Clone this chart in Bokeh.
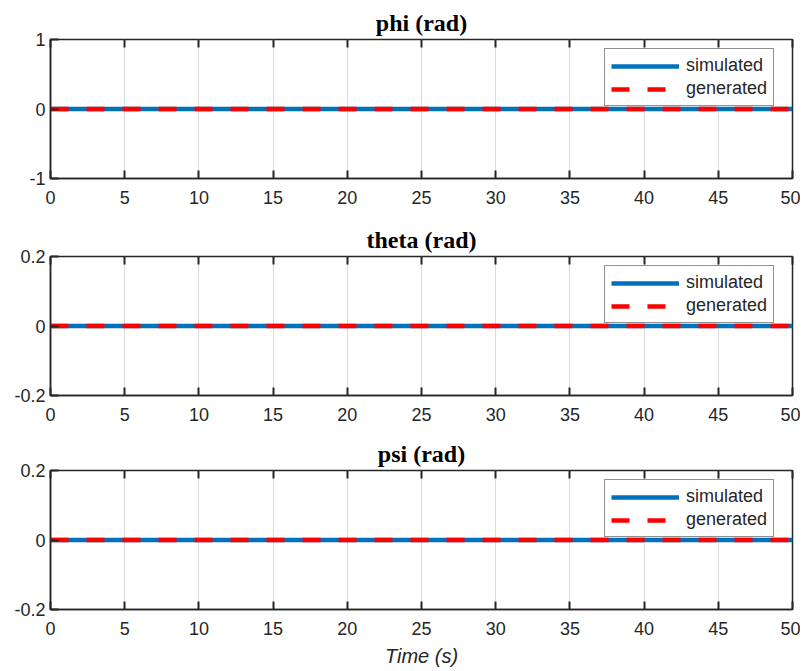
from bokeh.plotting import figure
from bokeh.layouts import column
from bokeh.models import LinearAxis, FixedTicker, Range1d, Legend, LegendItem
from bokeh.embed import file_html
from bokeh.resources import INLINE

# ---- data ----
time_s = [0, 10, 20, 30, 40, 50]
phi_sim = [0, 0, 0, 0, 0, 0]
phi_gen = [0, 0, 0, 0, 0, 0]
theta_sim = [0, 0, 0, 0, 0, 0]
theta_gen = [0, 0, 0, 0, 0, 0]
psi_sim = [0, 0, 0, 0, 0, 0]
psi_gen = [0, 0, 0, 0, 0, 0]

titles = ["phi (rad)", "theta (rad)", "psi (rad)"]
x_ticks = [0, 5, 10, 15, 20, 25, 30, 35, 40, 45, 50]
y_ticks_list = [[-1, 0, 1], [-0.2, 0, 0.2], [-0.2, 0, 0.2]]
y_labels_list = [["-1", "0", "1"], ["-0.2", "0", "0.2"], ["-0.2", "0", "0.2"]]
sim_series = [phi_sim, theta_sim, psi_sim]
gen_series = [phi_gen, theta_gen, psi_gen]

DARK = "#262626"
BLUE = "#0072BD"
RED = "#FF0000"
TICK_FONT = "Liberation Sans"

FW, FH = 742, 139
borders_top = [39, 40, 40]
borders_bottom = [38, 35, 60]

figs = []
for i in range(3):
    yt = y_ticks_list[i]
    p = figure(frame_width=FW, frame_height=FH, output_backend="svg",
               toolbar_location=None, x_range=Range1d(0, 50),
               y_range=Range1d(yt[0], yt[-1]),
               min_border_left=50, min_border_right=8,
               min_border_top=borders_top[i], min_border_bottom=borders_bottom[i])
    p.background_fill_color = "white"
    p.border_fill_color = "white"
    p.outline_line_color = DARK
    p.outline_line_width = 1.5
    p.outline_line_alpha = 1.0

    # title
    p.title.text = titles[i]
    p.title.text_font = "Liberation Serif"
    p.title.text_font_style = "bold"
    p.title.text_font_size = "24px"
    p.title.align = "center"
    p.title.text_color = "black"
    p.title.standoff = 7

    # x axis
    xa = p.xaxis[0]
    xa.ticker = FixedTicker(ticks=x_ticks)
    # y axis
    ya = p.yaxis[0]
    ya.ticker = FixedTicker(ticks=yt)
    ya.major_label_overrides = {v: s for v, s in zip(yt, y_labels_list[i])}
    for ax in (xa, ya):
        ax.axis_line_color = DARK
        ax.axis_line_width = 1.5
        ax.major_tick_in = 8
        ax.major_tick_out = 0
        ax.major_tick_line_color = DARK
        ax.major_tick_line_width = 2
        ax.minor_tick_line_color = None
        ax.major_label_text_font = TICK_FONT
        ax.major_label_text_font_size = "18px"
        ax.major_label_text_color = DARK
    xa.major_label_standoff = 12
    ya.major_label_standoff = 5

    # top mirrored ticks (labels not drawn)
    top = LinearAxis(ticker=FixedTicker(ticks=x_ticks), major_tick_in=8,
                     major_tick_out=0, major_tick_line_color=DARK,
                     major_tick_line_width=2, minor_tick_line_color=None,
                     axis_line_color=None, major_label_text_color=None,
                     major_label_text_font_size="1px",
                     major_label_standoff=0)
    p.add_layout(top, "above")

    # grid
    p.xgrid.grid_line_color = "#dcdcdc"
    p.xgrid.grid_line_width = 1
    p.xgrid.ticker = FixedTicker(ticks=x_ticks)
    p.ygrid.grid_line_color = None

    r_sim = p.line(time_s, sim_series[i], line_color=BLUE, line_width=4.5)
    r_gen = p.line(time_s, gen_series[i], line_color=RED, line_width=4.5,
                   line_dash="18 18")

    legend = Legend(items=[LegendItem(label="simulated", renderers=[r_sim]),
                           LegendItem(label="generated", renderers=[r_gen])],
                    location=(554, FH - 12 - 55))
    legend.margin = 0
    legend.padding = 6
    legend.spacing = 2
    legend.glyph_width = 68
    legend.glyph_height = 20
    legend.label_height = 20
    legend.label_standoff = 7
    legend.label_text_font = TICK_FONT
    legend.label_text_font_size = "18px"
    legend.label_text_color = DARK
    legend.border_line_color = DARK
    legend.border_line_width = 1.5
    legend.background_fill_color = "white"
    legend.background_fill_alpha = 1.0
    p.add_layout(legend, "center")

    if i == 2:
        xa.axis_label = "Time (s)"
        xa.axis_label_text_font = TICK_FONT
        xa.axis_label_text_font_style = "italic"
        xa.axis_label_text_font_size = "20px"
        xa.axis_label_text_color = DARK
        xa.axis_label_standoff = 7

    figs.append(p)

layout = column(*figs, spacing=0)
open("out.html", "w").write(file_html(layout, INLINE))
